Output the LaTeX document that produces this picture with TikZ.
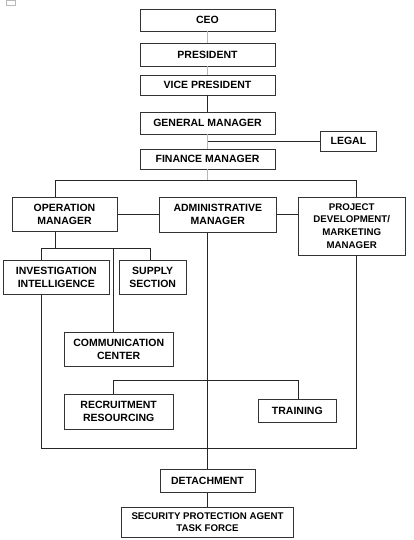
\documentclass[tikz,border=0pt]{standalone}
\usepackage{fontspec}
\setmainfont{Liberation Sans}
\definecolor{frame}{rgb}{0.2,0.2,0.2}
\definecolor{faint}{rgb}{0.72,0.72,0.72}

\begin{document}
\begin{tikzpicture}[
x=1pt, y=-1pt,
post/.style = {minimum width=#1,
               draw=frame, inner sep=1pt, align=center,
               font=\bfseries\fontsize{10.5}{13}\selectfont},
smalltext/.style = {font=\bfseries\fontsize{9.7}{12.7}\selectfont},
link/.style = {draw=black!85, line width=0.8pt},
pale/.style = {draw=faint, line width=0.8pt},
                    ]
\useasboundingbox (0,0) rectangle (413,540);
\draw[faint, line width=0.6pt] (6,0) rectangle (15,5);

\node[post=135pt, minimum height=22pt]  (ceo)   at (207.5,20)    {CEO};
\node[post=135pt, minimum height=23pt]  (pres)  at (207.5,54.5)  {PRESIDENT};
\node[post=135pt, minimum height=20pt]  (vp)    at (207.5,85)    {VICE PRESIDENT};
\node[post=135pt, minimum height=22pt]  (gm)    at (207.5,123)   {GENERAL MANAGER};
\node[post=56pt,  minimum height=20pt]  (legal) at (348.4,141.3) {LEGAL};
\node[post=135pt, minimum height=20pt]  (fm)    at (207.5,159.3) {FINANCE MANAGER};

\node[post=105.6pt, minimum height=34pt] (om) at (64.5,214.5)  {OPERATION\\MANAGER};
\node[post=117pt,   minimum height=35pt] (am) at (217.8,214.8) {ADMINISTRATIVE\\MANAGER};
\node[post=106.7pt, minimum height=58pt, smalltext] (pd) at (351.7,226)
      {PROJECT\\DEVELOPMENT/\\MARKETING\\MANAGER};

\node[post=106pt,   minimum height=34pt] (ii) at (56.3,277)   {INVESTIGATION\\INTELLIGENCE};
\node[post=66.7pt,  minimum height=34pt] (ss) at (152.7,277)  {SUPPLY\\SECTION};
\node[post=109.3pt, minimum height=34pt] (cc) at (118.7,349)  {COMMUNICATION\\CENTER};
\node[post=109.3pt, minimum height=35pt] (rr) at (118.7,411.8) {RECRUITMENT\\RESOURCING};
\node[post=78pt,    minimum height=23pt] (tr) at (297.3,410.8) {TRAINING};

\node[post=95pt,  minimum height=23pt] (det) at (207.5,480.8) {DETACHMENT};
\node[post=172pt, minimum height=30pt, smalltext] (spa) at (207.5,522.3)
      {SECURITY PROTECTION AGENT\\TASK FORCE};

% bends of the connectors
\coordinate (busL)  at (55,180);
\coordinate (busR)  at (356,180);
\coordinate (opL)   at (41,248);
\coordinate (opM)   at (113,248);
\coordinate (opR)   at (150,248);
\coordinate (loopL) at (41,448);
\coordinate (loopR) at (356,448);
\coordinate (trL)   at (113,380);
\coordinate (trR)   at (298,380);

\draw[pale]    (ceo) -- (pres);
\draw[pale]    (pres) -- (vp);
\draw[link]    (vp) -- (gm);
\draw[pale]    (gm) -- (fm);
\draw[link]    (legal) -- (legal -| gm);
\draw[pale]    (fm) -- (fm |- busL);
\draw[link]    (om.north -| busL) -- (busL) -- (busR) -- (pd.north -| busR);
\draw[link]    (om.east) -- (om.east -| am.west);
\draw[link]    (am.east) -- (am.east -| pd.west);
\draw[link]    (om.south -| busL) -- (busL |- opL);
\draw[link]    (ii.north -| opL) -- (opL) -- (opR) -- (ss.north -| opR);
\draw[link]    (opM) -- (cc.north -| opM);
\draw[link]    (ii.south -| loopL) -- (loopL) -- (loopR) -- (pd.south -| loopR);
\draw[link]    (am.south -| det) -- (det);
\draw[link]    (rr.north -| trL) -- (trL) -- (trR) -- (tr.north -| trR);
\draw[link]    (det) -- (spa);
\end{tikzpicture}
\end{document}
